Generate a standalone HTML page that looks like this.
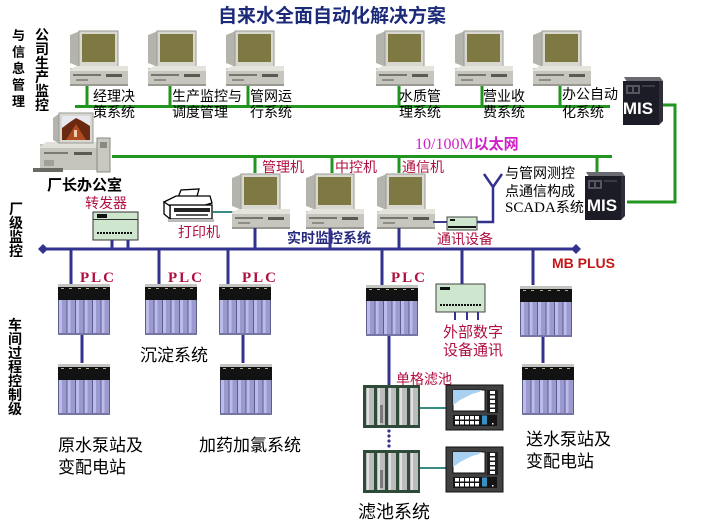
<!DOCTYPE html>
<html><head><meta charset="utf-8">
<style>
html,body{margin:0;padding:0;background:#fff;}
body{width:701px;height:527px;overflow:hidden;}
svg{display:block;}
text{font-family:"Liberation Sans","Noto Sans CJK SC",sans-serif;}
.cj{font-size:14px;fill:#000;}
.rd{font-size:14px;fill:#b01040;}
.big{font-size:17px;fill:#000;}
.vt{font-size:14px;font-weight:bold;fill:#000;}
text.serif,tspan.serif{font-family:"Liberation Serif","Noto Serif CJK SC",serif;}
tspan.sans{font-family:"Liberation Sans","Noto Sans CJK SC",sans-serif;}
text.plc{font-family:"Liberation Serif",serif;font-size:15px;font-weight:bold;letter-spacing:2px;fill:#b01040;}
</style></head>
<body>
<svg width="701" height="527" viewBox="0 0 701 527" xmlns="http://www.w3.org/2000/svg">
<defs>
 <symbol id="pc" viewBox="0 0 58 56" width="58" height="56" overflow="visible">
  <polygon points="0,5 10,1 10,37 0,33" fill="#b4b4ac"/>
  <rect x="9" y="1" width="39" height="36" fill="#d8d8d0" stroke="#9a9a92" stroke-width="1"/>
  <rect x="12" y="4" width="33" height="28" fill="#7e7842"/>
  <rect x="18" y="36" width="22" height="3" fill="#a8a8a0"/>
  <rect x="0" y="38" width="58" height="18" fill="#c6c6be"/>
  <polygon points="0,40 6,36 58,36 58,41 0,41" fill="#e4e4dc"/>
  <rect x="3" y="44" width="28" height="2" fill="#76766e"/>
  <rect x="36" y="44" width="16" height="3" fill="#5a5a52"/>
  <rect x="6" y="49" width="12" height="2" fill="#8e8e86"/>
  <rect x="0" y="54" width="58" height="2" fill="#9a9a92"/>
 </symbol>
 <symbol id="plc" viewBox="0 0 52 51" width="52" height="51" overflow="visible">
  <rect x="0" y="0" width="52" height="51" fill="#9a9ace"/>
  <rect x="0" y="0" width="52" height="3" fill="#c4c4c0"/>
  <rect x="0" y="3" width="52" height="13" fill="#121212"/>
  <g fill="#b0b090">
   <rect x="3" y="4" width="3" height="1"/><rect x="11" y="4" width="3" height="1"/><rect x="20" y="4" width="3" height="1"/><rect x="28" y="4" width="3" height="1"/><rect x="37" y="4" width="3" height="1"/><rect x="45" y="4" width="3" height="1"/>
  </g>
  <g fill="#bcbcec">
   <rect x="1" y="16" width="3" height="33"/><rect x="9.5" y="16" width="3" height="33"/><rect x="18" y="16" width="3" height="33"/><rect x="26.5" y="16" width="3" height="33"/><rect x="35" y="16" width="3" height="33"/><rect x="43.5" y="16" width="3" height="33"/>
  </g>
  <g fill="#5c5c8e">
   <rect x="0" y="16" width="1" height="35"/><rect x="8.5" y="16" width="1" height="35"/><rect x="17" y="16" width="1" height="35"/><rect x="25.5" y="16" width="1" height="35"/><rect x="34" y="16" width="1" height="35"/><rect x="42.5" y="16" width="1" height="35"/><rect x="51" y="16" width="1" height="35"/>
  </g>
  <rect x="0" y="49" width="52" height="2" fill="#7676a6"/>
 </symbol>
 <symbol id="flt" viewBox="0 0 57 43" width="57" height="43" overflow="visible">
  <rect x="0" y="0" width="57" height="43" fill="#2e4a38"/>
  <g fill="#bcbcbc">
   <rect x="3" y="3" width="8" height="37"/><rect x="14" y="3" width="8" height="37"/><rect x="25" y="3" width="8" height="37"/><rect x="36" y="3" width="8" height="37"/><rect x="47" y="3" width="8" height="37"/>
  </g>
  <g fill="#e0e0e0">
   <rect x="4" y="3" width="2" height="37"/><rect x="15" y="3" width="2" height="37"/><rect x="26" y="3" width="2" height="37"/><rect x="37" y="3" width="2" height="37"/><rect x="48" y="3" width="2" height="37"/>
  </g>
  <rect x="17" y="20" width="3" height="18" fill="#7a7a7a"/>
 </symbol>
 <symbol id="hmi" viewBox="0 0 57 45" width="57" height="45" overflow="visible">
  <rect x="0" y="0" width="57" height="45" fill="#404040" stroke="#111" stroke-width="1"/>
  <rect x="7" y="5" width="32" height="21" fill="#fff" stroke="#111" stroke-width="1"/>
  <polygon points="7,5 36,5 33,7 26,9 20,12 14,15 10,18 7,20" fill="#a8d0f0"/>
  <rect x="41" y="5" width="11" height="23" fill="#1e1e1e"/>
  <g fill="#fff"><rect x="44" y="6" width="5" height="3"/><rect x="44" y="10.5" width="5" height="3"/><rect x="44" y="15" width="5" height="3"/><rect x="44" y="19.5" width="5" height="3"/><rect x="44" y="24" width="5" height="3"/></g>
  <rect x="7" y="30" width="44" height="11" fill="#151515"/>
  <g fill="#fff">
   <rect x="9" y="31" width="4" height="3.5"/><rect x="14" y="31" width="4" height="3.5"/><rect x="19" y="31" width="4" height="3.5"/><rect x="24" y="31" width="4" height="3.5"/><rect x="29" y="31" width="4" height="3.5"/>
   <rect x="9" y="36" width="4" height="3.5"/><rect x="14" y="36" width="4" height="3.5"/><rect x="19" y="36" width="4" height="3.5"/><rect x="24" y="36" width="4" height="3.5"/><rect x="29" y="36" width="4" height="3.5"/>
   <rect x="46" y="38" width="1.5" height="1.5"/>
  </g>
  <rect x="36" y="30.5" width="5" height="9" fill="#3a90c0"/>
 </symbol>
 <symbol id="mis" viewBox="0 0 43 48" width="43" height="48" overflow="visible">
  <polygon points="4,0 40,0 43,4 7,5" fill="#6a6a72"/>
  <rect x="3" y="4" width="36" height="44" fill="#1c1c26"/>
  <polygon points="39,4 43,4 43,44 39,48" fill="#2e2e3a"/>
  <rect x="6" y="8" width="14" height="9" fill="#555560"/>
  <rect x="8" y="10" width="4" height="5" fill="#1c1c26"/>
  <rect x="14" y="10" width="4" height="5" fill="#1c1c26"/>
  <rect x="22" y="8" width="13" height="2" fill="#3a3a48"/>
 </symbol>
</defs>

<!-- Title -->
<text x="218" y="22" font-size="19" font-weight="bold" fill="#1c2a7a">自来水全面自动化解决方案</text>

<!-- Left vertical labels -->
<g class="vt">
 <text x="12" y="40" style="font-size:13px">与</text><text x="12" y="56.5" style="font-size:13px">信</text><text x="12" y="73" style="font-size:13px">息</text><text x="12" y="89.5" style="font-size:13px">管</text><text x="12" y="106" style="font-size:13px">理</text>
</g>
<g class="vt">
 <text x="35" y="40">公</text><text x="35" y="54">司</text><text x="35" y="68">生</text><text x="35" y="82">产</text><text x="35" y="96">监</text><text x="35" y="110">控</text>
</g>
<g class="vt">
 <text x="9" y="214">厂</text><text x="9" y="228">级</text><text x="9" y="242">监</text><text x="9" y="256">控</text>
</g>
<g class="vt">
 <text x="8" y="330">车</text><text x="8" y="344">间</text><text x="8" y="358">过</text><text x="8" y="372">程</text><text x="8" y="386">控</text><text x="8" y="400">制</text><text x="8" y="414">级</text>
</g>

<!-- Green network lines -->
<g stroke="#21951f" stroke-width="3" fill="none">
 <path d="M75 106.5 H610"/>
 <path d="M87 85 V106 M170 85 V106 M248 85 V106 M399 85 V106 M482 85 V106 M560 85 V106"/>
 <path d="M662 105 H675 V202 H627"/>
 <path d="M112 156.5 H612"/>
 <path d="M255 156 V173 M332 156 V173 M399 156 V173 M597 156 V172"/>
</g>

<!-- Top computers -->
<use href="#pc" x="70" y="30"/>
<use href="#pc" x="148" y="30"/>
<use href="#pc" x="226" y="30"/>
<use href="#pc" x="376" y="30"/>
<use href="#pc" x="455" y="30"/>
<use href="#pc" x="533" y="30"/>

<!-- Top labels -->
<g class="cj">
 <text x="93" y="101">经理决</text><text x="93" y="117">策系统</text>
 <text x="172" y="101">生产监控与</text><text x="172" y="117">调度管理</text>
 <text x="250" y="101">管网运</text><text x="250" y="117">行系统</text>
 <text x="399" y="101">水质管</text><text x="399" y="117">理系统</text>
 <text x="483" y="101">营业收</text><text x="483" y="117">费系统</text>
 <text x="562" y="99">办公自动</text><text x="562" y="117">化系统</text>
</g>

<!-- MIS servers -->
<use href="#mis" x="620" y="77"/>
<text x="638" y="114" text-anchor="middle" font-size="17" font-weight="bold" fill="#fff">MIS</text>
<use href="#mis" x="582" y="172"/>
<text x="602" y="211" text-anchor="middle" font-size="17" font-weight="bold" fill="#fff">MIS</text>

<!-- Ethernet label -->
<text x="415" y="149" class="serif" style="font-size:16px" fill="#d020c8">10/100M<tspan class="sans" style="font-weight:bold;font-size:15px">以太网</tspan></text>

<!-- Factory director computer -->
<g>
 <rect x="40" y="144" width="58" height="26" fill="#c4c4bc"/>
 <polygon points="40,147 46,142 98,142 98,148 40,148" fill="#e0e0d8"/>
 <rect x="44" y="152" width="24" height="2" fill="#7a7a72"/>
 <rect x="74" y="152" width="18" height="3" fill="#5a5a52"/>
 <rect x="44" y="160" width="10" height="6" fill="#a0a098"/>
 <polygon points="53,118 60,113 60,144 53,140" fill="#b4b4ac"/>
 <rect x="59" y="113" width="34" height="30" fill="#d8d8d0" stroke="#999" stroke-width="1"/>
 <rect x="62" y="116" width="28" height="24" fill="#6a2a12"/>
 <polygon points="62,116 90,116 90,126 82,121 76,118 70,122 62,128" fill="#e8e8f0"/>
 <polygon points="66,140 76,124 86,140" fill="#b04a20"/>
 <rect x="74" y="130" width="3" height="7" fill="#f0d0b0"/>
 <rect x="97" y="138" width="13" height="34" fill="#c8c8c0" stroke="#8a8a82" stroke-width="1"/>
 <rect x="100" y="142" width="7" height="6" fill="#8a8a82"/>
 <rect x="33" y="168" width="30" height="4" fill="#6a6a62"/>
</g>
<text x="47" y="190" font-size="15" font-weight="bold" fill="#000">厂长办公室</text>

<!-- Forwarder -->
<text x="85" y="208" class="rd">转发器</text>
<rect x="93" y="212" width="45" height="28" fill="#cde6cd" stroke="#333" stroke-width="1"/>
<rect x="97" y="214" width="10" height="4" fill="#111"/>
<rect x="93" y="219" width="45" height="1" fill="#333"/>
<line x1="97" y1="233" x2="133" y2="233" stroke="#111" stroke-width="2" stroke-dasharray="2,1"/>

<!-- Printer -->
<g stroke="#000" stroke-width="1.3" fill="#fff">
 <polygon points="177,200 181,190 199,189 196,200"/>
 <polygon points="164,202 176,196 210,196 212,203 202,206 166,206"/>
 <rect x="170" y="205" width="42" height="14"/>
 <polygon points="164,202 170,206 170,219 164,214"/>
</g>
<rect x="174" y="208" width="36" height="4" fill="#222"/>
<rect x="176" y="214" width="32" height="2" fill="#555"/>
<rect x="168" y="219" width="46" height="3" fill="#bbb"/>
<text x="178" y="237" class="rd">打印机</text>
<line x1="213" y1="212" x2="232" y2="212" stroke="#3a8a86" stroke-width="2"/>

<!-- Middle computers -->
<use href="#pc" x="232" y="173"/>
<use href="#pc" x="306" y="173"/>
<use href="#pc" x="377" y="173"/>
<text x="262" y="172" class="rd">管理机</text>
<text x="335" y="172" class="rd">中控机</text>
<text x="402" y="172" class="rd">通信机</text>
<text x="287" y="243" font-size="14" font-weight="bold" fill="#262a7e">实时监控系统</text>

<!-- Comm device and antenna -->
<line x1="433" y1="222" x2="447" y2="222" stroke="#3a3a8e" stroke-width="2"/>
<rect x="447" y="217" width="30" height="13" fill="#cde6cd" stroke="#444" stroke-width="1"/>
<rect x="450" y="219" width="5" height="2" fill="#111"/>
<rect x="448" y="226" width="28" height="2" fill="#111"/>
<g stroke="#33338f" stroke-width="2.5" fill="none">
 <path d="M477 222 H493 V185"/>
 <path d="M484 174 L493 187 L502 174"/>
</g>
<text x="437" y="244" class="rd">通讯设备</text>
<g class="cj">
 <text x="505" y="178">与管网测控</text>
 <text x="505" y="196">点通信构成</text>
 <text x="505" y="212" class="serif" style="font-size:15px">SCADA<tspan class="sans" style="font-size:14px">系统</tspan></text>
</g>

<!-- Blue bus -->
<g stroke="#33338f" stroke-width="3" fill="none">
 <path d="M43 249 H576"/>
 <path d="M255 228 V249 M330 228 V249 M399 228 V249"/>
 <path d="M112 240 V249 M128 240 V249"/>
 <path d="M71 249 V284 M159 249 V284 M228 249 V284 M382 249 V285 M462 249 V284 M533 249 V285"/>
 <path d="M82 335 V363 M243 335 V363 M543 337 V363 M389 335 V385"/>
</g>
<polygon points="43,244 48,249 43,254 38,249" fill="#33338f"/>
<polygon points="576,244 581,249 576,254 571,249" fill="#33338f"/>
<text x="552" y="268" font-size="14" font-weight="bold" fill="#c41818">MB PLUS</text>

<!-- PLC labels -->
<text x="80" y="282" class="plc">PLC</text>
<text x="168" y="282" class="plc">PLC</text>
<text x="242" y="282" class="plc">PLC</text>
<text x="391" y="282" class="plc">PLC</text>

<!-- PLC racks -->
<use href="#plc" x="58" y="284"/>
<use href="#plc" x="58" y="364"/>
<use href="#plc" x="145" y="284"/>
<use href="#plc" x="219" y="284"/>
<use href="#plc" x="220" y="364"/>
<use href="#plc" x="366" y="285"/>
<use href="#plc" x="520" y="286"/>
<use href="#plc" x="522" y="364"/>

<!-- External device -->
<rect x="436" y="284" width="49" height="28" fill="#cde6cd" stroke="#444" stroke-width="1"/>
<rect x="440" y="287" width="10" height="3" fill="#111"/>
<line x1="440" y1="305" x2="481" y2="305" stroke="#111" stroke-width="2" stroke-dasharray="2,1"/>
<g stroke="#33338f" stroke-width="2"><path d="M455 312 V320 M467 312 V320 M478 312 V320"/></g>
<text x="443" y="337" class="rd" style="font-size:15px">外部数字</text>
<text x="443" y="355" class="rd" style="font-size:15px">设备通讯</text>

<!-- Filter system -->
<text x="396" y="384" class="rd">单格滤池</text>
<use href="#flt" x="363" y="385"/>
<use href="#flt" x="363" y="450"/>
<g fill="#33338f"><circle cx="389" cy="431" r="1.6"/><circle cx="389" cy="436" r="1.6"/><circle cx="389" cy="441" r="1.6"/><circle cx="389" cy="446" r="1.6"/></g>
<line x1="420" y1="408" x2="446" y2="408" stroke="#3a8a86" stroke-width="2"/>
<line x1="420" y1="468" x2="446" y2="468" stroke="#3a8a86" stroke-width="2"/>
<use href="#hmi" x="446" y="385"/>
<use href="#hmi" x="446" y="447"/>

<!-- Bottom labels -->
<g class="big">
 <text x="140" y="361">沉淀系统</text>
 <text x="58" y="451">原水泵站及</text>
 <text x="58" y="473">变配电站</text>
 <text x="199" y="451">加药加氯系统</text>
 <text x="526" y="445">送水泵站及</text>
 <text x="526" y="467">变配电站</text>
 <text x="358" y="518" style="font-size:18px">滤池系统</text>
</g>
</svg>
</body></html>
